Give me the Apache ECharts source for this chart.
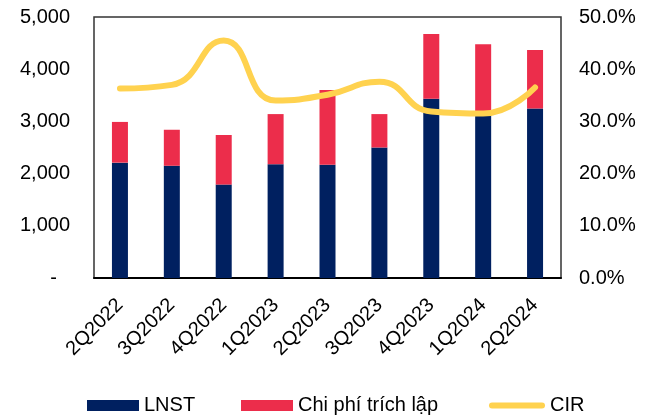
<!DOCTYPE html>
<html>
<head>
<meta charset="utf-8">
<script src="https://cdn.jsdelivr.net/npm/echarts@6/dist/echarts.min.js"></script>
<style>
  html, body { margin: 0; padding: 0; background: #fff; }
  #chart { width: 657px; height: 419px; }
</style>
</head>
<body>
<div id="chart"></div>
<script>
// Quarterly figures
const quarters = ['2Q2022', '3Q2022', '4Q2022', '1Q2023', '2Q2023', '3Q2023', '4Q2023', '1Q2024', '2Q2024'];
const lnst = [2210, 2150, 1790, 2180, 2170, 2500, 3435, 3200, 3245];
const provisions = [780, 690, 950, 960, 1430, 640, 1240, 1280, 1125];
const cir = [36.3, 37.0, 45.5, 34.0, 35.1, 37.6, 31.9, 31.5, 36.5];

const font = '"Liberation Sans", Arial, sans-serif';
const fs = 20;
const NAVY = '#002060';
const RED = '#EC2D4B';
const GOLD = '#FFD24F';

const chart = echarts.init(document.getElementById('chart'), null, { renderer: 'canvas' });

// one legend block per entry so each item sits at its own x position
function legendBlock(name, left, icon, w, h) {
  return {
    left: left, top: 395.5, padding: 0,
    itemWidth: w, itemHeight: h,
    textStyle: { fontFamily: font, fontSize: fs, color: '#000' },
    data: [{ name: name, icon: icon }]
  };
}

chart.setOption({
  animation: false,
  backgroundColor: '#ffffff',
  textStyle: { fontFamily: font },
  grid: {
    left: 94, right: 96, top: 17, bottom: 141,
    show: true, borderColor: '#333333', borderWidth: 1.5
  },
  legend: [
    legendBlock('LNST', 87, 'rect', 52, 11),
    legendBlock('Chi phí trích lập', 241, 'rect', 52, 11),
    legendBlock('CIR', 489, 'path://M3,0 L53,0 A3,3 0 0 1 53,6 L3,6 A3,3 0 0 1 3,0 Z', 56, 6)
  ],
  xAxis: {
    type: 'category',
    data: quarters,
    axisLine: { lineStyle: { color: '#000', width: 2 } },
    axisTick: { show: false },
    axisLabel: { rotate: 45, margin: 24, fontSize: fs, color: '#000', fontFamily: font, interval: 0 }
  },
  yAxis: [
    {
      type: 'value', min: 0, max: 5000, interval: 1000,
      splitLine: { show: false },
      axisLine: { show: false },
      axisLabel: {
        fontSize: fs, color: '#000', fontFamily: font, margin: 24,
        formatter: v => v === 0 ? '{z|-}' : v.toLocaleString('en-US'),
        rich: { z: { fontSize: fs, fontFamily: font, color: '#000', padding: [0, 13, 0, 0] } }
      }
    },
    {
      type: 'value', min: 0, max: 50, interval: 10,
      splitLine: { show: false },
      axisLine: { show: false },
      axisLabel: {
        fontSize: fs, color: '#000', fontFamily: font, margin: 18,
        formatter: v => v.toFixed(1) + '%'
      }
    }
  ],
  series: [
    {
      name: 'LNST', type: 'bar', stack: 'total', barWidth: 16,
      itemStyle: { color: NAVY },
      data: lnst
    },
    {
      name: 'Chi phí trích lập', type: 'bar', stack: 'total', barWidth: 16,
      itemStyle: { color: RED },
      data: provisions
    },
    {
      name: 'CIR', type: 'line', yAxisIndex: 1, smooth: 0.5,
      symbol: 'none',
      lineStyle: { color: GOLD, width: 6, cap: 'round', join: 'round' },
      itemStyle: { color: GOLD },
      data: cir
    }
  ]
});
</script>
</body>
</html>
